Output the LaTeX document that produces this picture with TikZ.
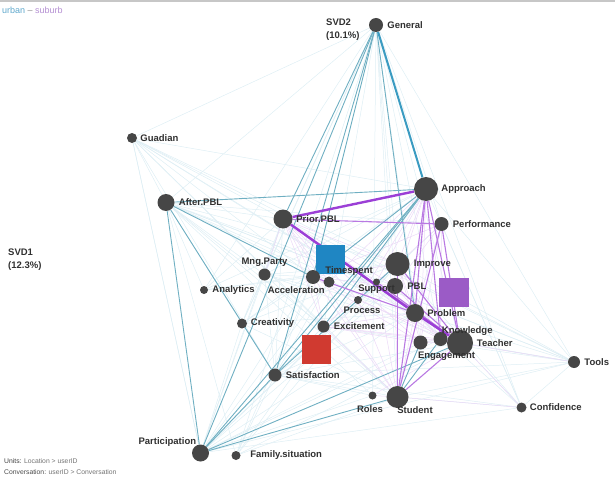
\documentclass[tikz,border=0pt]{standalone}
\usepackage{fontspec}
\setmainfont{Liberation Sans}
\usepackage{xcolor}
\usetikzlibrary{positioning,backgrounds}

\definecolor{urb}{HTML}{3A9BC1}
\definecolor{sub}{HTML}{9B3FD6}
\definecolor{codegray}{HTML}{464646}
\definecolor{lblgray}{HTML}{303030}
\definecolor{urbmean}{HTML}{1F86C3}
\definecolor{submean}{HTML}{9B5BC6}
\definecolor{redmean}{HTML}{D03A30}
\definecolor{urbtxt}{HTML}{5FA8CC}
\definecolor{subtxt}{HTML}{B48FD2}
\definecolor{urbmid}{HTML}{6FAFC2}

\begin{document}
\begin{tikzpicture}[
  x=1pt, y=-1pt,
  code/.style={circle, fill=codegray, inner sep=0pt, minimum size=#1},
  mean/.style={rectangle, inner sep=0pt, minimum size=29.5pt},
  every label/.style={font=\fontsize{9.5}{11}\selectfont\bfseries, text=lblgray, inner sep=0pt},
  label distance=4pt,
  axis/.style={font=\fontsize{9.5}{13}\selectfont\bfseries, text=lblgray, inner sep=0pt, align=left, anchor=north west},
  note/.style={font=\fontsize{6.8}{8}\selectfont, text=black!55, inner sep=0pt, anchor=west},
  ut/.style={draw=urb, line width=2pt},
  um/.style={draw=urbmid, line width=0.9pt},
  uf/.style={draw=urb!17, line width=0.5pt},
  st/.style={draw=sub, line width=2.4pt},
  sm/.style={draw=sub!70, line width=1.1pt},
  sf/.style={draw=sub!20, line width=0.5pt}
]
\useasboundingbox (0,0) rectangle (615,484);
\fill[black!22] (0,0) rectangle (615,2.5);

% group means
\node[mean, fill=urbmean] (urbmn) at (330.5,259.5) {};
\node[mean, fill=submean] (submn) at (454,292.5) {};
\node[mean, fill=redmean] (redmn) at (316.5,349.5) {};

% codes
\node[code=14pt, label=right:General] (gen) at (376,25) {};
\node[code=10pt, label={[label distance=3pt]right:Guadian}] (gua) at (132,138) {};
\node[code=17pt, label=right:After.PBL] (aft) at (166,202.5) {};
\node[code=19pt, label={[label distance=3.5pt]right:Prior.PBL}] (pri) at (283,219) {};
\node[code=24pt, label={[label distance=3pt]right:Approach}] (app) at (426,189) {};
\node[code=14pt, label=right:Performance] (per) at (441.5,224) {};
\node[code=12pt, label={[label distance=2pt]above:Mng.Party}] (mng) at (264.5,274.5) {};
\node[code=8pt, label=right:Analytics] (ana) at (204,290) {};
\node[code=14pt, label={[label distance=5pt, yshift=6pt]right:Timespent}] (tim) at (313,277) {};
\node[code=11pt, label={[label distance=0pt]below left:Acceleration}] (acc) at (329,282) {};
\node[code=24pt, label=right:Improve] (imp) at (397.5,264) {};
\node[code=16pt, label=right:PBL] (pbl) at (395,286) {};
\node[code=7pt, label={[label distance=-1.5pt]below:Support}] (sup) at (376.5,282) {};
\node[code=8pt, label={[label distance=3pt, xshift=4pt]below:Process}] (pro) at (358,300) {};
\node[code=18pt, label={[label distance=3pt]right:Problem}] (prb) at (415,313) {};
\node[code=12pt, label=right:Excitement] (exc) at (323.5,326.5) {};
\node[code=10pt, label={[label distance=3.5pt]right:Creativity}] (cre) at (242,323.5) {};
\node[code=26pt, label={[label distance=3.5pt]right:Teacher}] (tea) at (460,343) {};
\node[code=14pt, label={[label distance=-6pt, yshift=8pt]right:Knowledge}] (kno) at (440.5,339) {};
\node[code=14pt, label={[label distance=2.5pt, xshift=26pt]below:Engagement}] (eng) at (420.5,342.5) {};
\node[code=12pt, label=right:Tools] (too) at (574,362) {};
\node[code=10pt, label={[label distance=3pt]right:Confidence}] (con) at (521.5,407.5) {};
\node[code=22pt, label={[label distance=-2pt, xshift=17.5pt]below:Student}] (stu) at (397.5,397) {};
\node[code=8pt, label={[label distance=6pt, xshift=-2.5pt]below:Roles}] (rol) at (372.5,395.5) {};
\node[code=13pt, label=right:Satisfaction] (sat) at (275,375) {};
\node[code=17pt, label={[label distance=0pt, xshift=2pt]above left:Participation}] (par) at (200.5,453) {};
\node[code=9pt, label={[label distance=9.5pt]right:Family.situation}] (fam) at (236,455.5) {};

% axes, legend, notes
\node[axis] (svd2) at (326,18.5) {SVD2\\(10.1\%)};
\node[axis] (svd1) at (8,249) {SVD1\\(12.3\%)};
\node[anchor=west, inner sep=0pt, font=\fontsize{9}{10}\selectfont] (legend) at (2,10) {\textcolor{urbtxt}{urban} \textcolor{black!45}{--} \textcolor{subtxt}{suburb}};
\node[note] (units) at (4,460.7) {\textcolor{black!75}{Units:} Location > userID};
\node[note] (conv) at (4,472.5) {\textcolor{black!70}{Conversation:} userID > Conversation};

\begin{scope}[on background layer]
% faint urban haze
\draw[uf] (gen) edge (gua) edge (aft) edge (mng) edge (ana) edge (cre) edge (exc) edge (fam) edge (rol) edge (con) edge (too) edge (per) edge (imp) edge (pbl) edge (tea) edge (stu) edge (kno) edge (eng);
\draw[uf] (gua) edge (aft) edge (pri) edge (app) edge (tim) edge (imp) edge (prb) edge (stu) edge (sat) edge (par) edge (too) edge (tea) edge (exc);
\draw[uf] (aft) edge (pri) edge (per) edge (mng) edge (imp) edge (pbl) edge (prb) edge (exc) edge (stu) edge (tea) edge (too) edge (rol) edge (fam) edge (cre) edge (ana);
\draw[uf] (par) edge (cre) edge (mng) edge (pri) edge (tim) edge (acc) edge (imp) edge (pbl) edge (exc) edge (prb) edge (eng) edge (kno) edge (rol) edge (too) edge (con) edge (per) edge (gua);
\draw[uf] (sat) edge (tim) edge (acc) edge (pri) edge (exc) edge (pbl) edge (prb) edge (stu) edge (tea) edge (rol) edge (mng);
\draw[uf] (too) edge (pri) edge (app) edge (imp) edge (prb) edge (kno) edge (tea) edge (stu) edge (aft) edge (exc) edge (sat) edge (con);
\draw[uf] (con) edge (app) edge (prb) edge (tea) edge (stu) edge (imp) edge (sat) edge (per);
\draw[uf] (cre) edge (mng) edge (tim) edge (pri) edge (app) edge (imp) edge (stu) edge (prb) edge (sat);
\draw[uf] (mng) edge (app) edge (pri) edge (imp) edge (prb) edge (stu) edge (tea) edge (tim);
\draw[uf] (ana) edge (app) edge (tim) edge (imp) edge (pri);
\draw[uf] (fam) edge (stu) edge (app) edge (tea) edge (imp) edge (sat) edge (tim);
% faint suburb haze
\draw[sf] (pri) edge (tim) edge (acc) edge (mng) edge (imp) edge (pbl) edge (sup) edge (pro) edge (kno) edge (eng) edge (stu) edge (exc);
\draw[sf] (app) edge (tim) edge (acc) edge (sup) edge (pbl) edge (pro) edge (exc) edge (eng) edge (imp);
\draw[sf] (per) edge (imp) edge (pbl) edge (prb) edge (kno) edge (eng) edge (tim);
\draw[sf] (imp) edge (pbl) edge (prb) edge (kno) edge (eng) edge (exc);
\draw[sf] (tim) edge (kno) edge (eng) edge (stu) edge (pbl) edge (imp) edge (exc);
\draw[sf] (stu) edge (prb) edge (pbl) edge (eng) edge (rol) edge (pro) edge (exc) edge (con) edge (sup);
\draw[sf] (tea) edge (con) edge (too) edge (eng) edge (exc) edge (pro) edge (rol);
\draw[sf] (kno) edge (eng) edge (prb) edge (pbl);
\draw[sf] (exc) edge (prb) edge (kno) edge (eng);
% urban medium
\draw[um] (gen) edge (tim) edge (prb) edge (sat) edge (par) edge (pri);
\draw[um] (aft) edge (sat) edge (par) edge (app) edge (tim);
\draw[um] (par) edge (app) edge (stu) edge (sat) edge (tea);
\draw[um] (sat) edge (app) edge (imp);
\draw[um] (stu) edge (kno) edge (eng);
\draw[um] (exc) edge (app);
\draw[um] (tim) edge (app);
% suburb medium
\draw[sm] (app) edge (tea) edge (prb) edge (stu) edge (kno);
\draw[sm] (per) edge (tea) edge (stu);
\draw[sm] (imp) edge (tea) edge (stu);
\draw[sm] (stu) edge (tea);
\draw[sm] (pbl) edge (tea);
\draw[sm] (sup) edge (tea);
\draw[sm] (pri) edge (per) edge (tea);
\draw[sm] (tim) edge (prb);
\draw[sm] (kno) edge (tea);
% strongest
\draw[ut] (gen) -- (app);
\draw[st] (pri) -- (app);
\draw[st] (pri) -- (prb);
\draw[st] (prb) -- (tea);
\end{scope}
\end{tikzpicture}
\end{document}
